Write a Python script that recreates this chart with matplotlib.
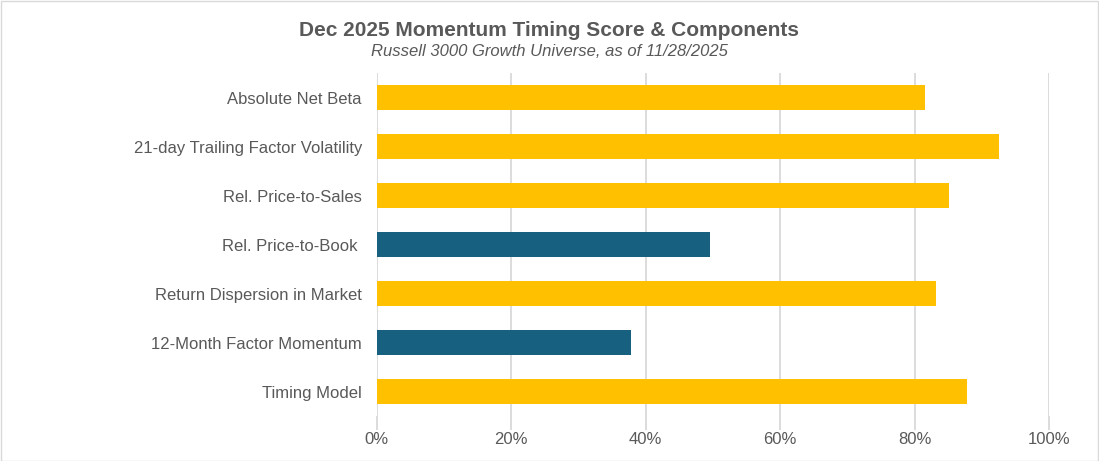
import matplotlib
matplotlib.use("Agg")
import matplotlib.pyplot as plt
from matplotlib.patches import Rectangle
from matplotlib.ticker import FuncFormatter

categories = ["Absolute Net Beta", "21-day Trailing Factor Volatility", "Rel. Price-to-Sales",
              "Rel. Price-to-Book ", "Return Dispersion in Market", "12-Month Factor Momentum",
              "Timing Model"]
values = [81.6, 92.5, 85.2, 49.6, 83.2, 37.8, 87.8]
colors = ["#FFC000", "#FFC000", "#FFC000", "#17607F", "#FFC000", "#17607F", "#FFC000"]
xticks = [0, 20, 40, 60, 80, 100]

plt.rcParams['font.family'] = ['Liberation Sans', 'DejaVu Sans']
W, H = 1099, 461
fig = plt.figure(figsize=(W / 100, H / 100), dpi=100)

left, right, top, bottom = 376.5, 1049, 73, 416
ax = fig.add_axes([left / W, 1 - bottom / H, (right - left) / W, (bottom - top) / H])

ypos = list(range(len(categories)))
ax.barh(ypos, values, height=0.51, color=colors, zorder=3)
ax.set_ylim(len(categories) - 0.5, -0.5)
ax.set_xlim(0, 100)
ax.set_xticks(xticks)
ax.xaxis.set_major_formatter(FuncFormatter(lambda v, p: f"{v:.0f}%"))
ax.set_yticks(ypos)
ax.set_yticklabels(categories)
ax.grid(axis='x', color='#D9D9D9', linewidth=1.3, zorder=0)
for s in ax.spines.values():
    s.set_visible(False)
ax.tick_params(axis='x', length=10, width=1.3, color='#D9D9D9', labelsize=12,
               labelcolor='#595959', pad=1.5)
ax.tick_params(axis='y', length=0, labelsize=12, labelcolor='#595959', pad=10.5)

fig.text(549 / W, 1 - 30.5 / H, "Dec 2025 Momentum Timing Score & Components", ha='center', va='center',
         fontsize=15, fontweight='bold', color='#595959')
fig.text(549 / W, 1 - 51 / H, "Russell 3000 Growth Universe, as of 11/28/2025", ha='center', va='center',
         fontsize=12, fontstyle='italic', color='#595959')

fig.patches.append(Rectangle((0.5 / W, 0.5 / H), 1 - 1.5 / W, 1 - 1.5 / H, transform=fig.transFigure,
                             fill=False, edgecolor='#D9D9D9', linewidth=1))
fig.savefig("out.png", dpi=100)
